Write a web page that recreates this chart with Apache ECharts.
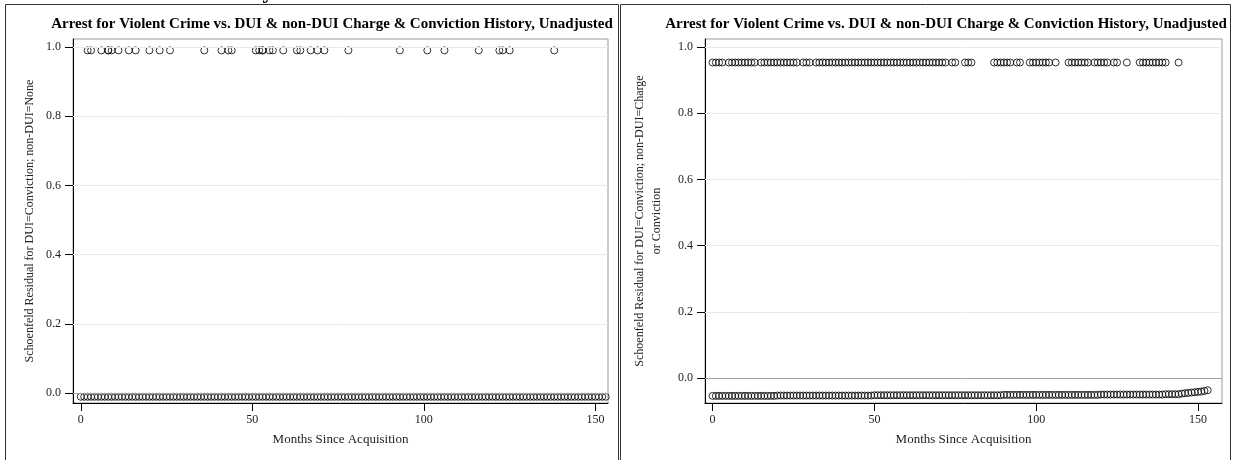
<!DOCTYPE html>
<html>
<head>
<meta charset="utf-8">
<script src="https://cdn.jsdelivr.net/npm/echarts@6/dist/echarts.min.js"></script>
<style>
  html, body { margin: 0; padding: 0; background: #fff; }
</style>
</head>
<body>
<div id="chart" style="width: 1233px; height: 460px;"></div>
<script>
// ---- data ----
var titleText = 'Arrest for Violent Crime vs. DUI & non-DUI Charge & Conviction History, Unadjusted';
var xTicks = [0, 50, 100, 150];
var yTicks = [0, 0.2, 0.4, 0.6, 0.8, 1.0];

// left panel: DUI=Conviction; non-DUI=None
var leftHighMonths = [2, 3, 6, 8, 8, 9, 11, 14, 16, 20, 23, 26, 36, 41, 43, 44, 51, 52, 53, 53, 55, 56,
  59, 63, 64, 67, 69, 71, 78, 93, 101, 106, 116, 122, 123, 125, 138];
var leftHighResid = 0.99;
var leftLowMonths = [0, 1, 2, 3, 4, 5, 6, 7, 8, 9, 10, 11, 12, 13, 14, 15, 16, 17, 18, 19,
  20, 21, 22, 23, 24, 25, 26, 27, 28, 29, 30, 31, 32, 33, 34, 35, 36, 37, 38, 39,
  40, 41, 42, 43, 44, 45, 46, 47, 48, 49, 50, 51, 52, 53, 54, 55, 56, 57, 58, 59,
  60, 61, 62, 63, 64, 65, 66, 67, 68, 69, 70, 71, 72, 73, 74, 75, 76, 77, 78, 79,
  80, 81, 82, 83, 84, 85, 86, 87, 88, 89, 90, 91, 92, 93, 94, 95, 96, 97, 98, 99,
  100, 101, 102, 103, 104, 105, 106, 107, 108, 109, 110, 111, 112, 113, 114, 115, 116, 117, 118, 119,
  120, 121, 122, 123, 124, 125, 126, 127, 128, 129, 130, 131, 132, 133, 134, 135, 136, 137, 138, 139,
  140, 141, 142, 143, 144, 145, 146, 147, 148, 149, 150, 151, 152, 153];
var leftLowResid = -0.011;

// right panel: DUI=Conviction; non-DUI=Charge or Conviction
var rightHighMonths = [0, 1, 2, 3, 5, 6, 7, 8, 9, 10, 11, 12, 13, 15, 16, 17, 18, 19, 20, 21, 22, 23, 24, 25, 26,
  28, 29, 30, 32, 33, 34, 35, 36, 37, 38, 39, 40, 41, 42, 43, 44, 45, 46, 47, 48, 49, 50, 51, 52, 53, 54,
  55, 56, 57, 58, 59, 60, 61, 62, 63, 64, 65, 66, 67, 68, 69, 70, 71, 72, 74, 75, 78, 79, 80,
  87, 88, 89, 90, 91, 92, 94, 95, 98, 99, 100, 101, 102, 103, 104, 106,
  110, 111, 112, 113, 114, 115, 116, 118, 119, 120, 121, 122, 124, 125, 128,
  132, 133, 134, 135, 136, 137, 138, 139, 140, 144];
var rightHighResid = 0.953;
var rightLowMonths = leftLowMonths;
var rightLowResid = [
  -0.054, -0.054, -0.054, -0.054, -0.054, -0.054, -0.054, -0.054, -0.054, -0.054,
  -0.054, -0.054, -0.054, -0.054, -0.054, -0.054, -0.054, -0.054, -0.054, -0.054,
  -0.053, -0.053, -0.053, -0.053, -0.053, -0.053, -0.053, -0.053, -0.053, -0.053,
  -0.053, -0.053, -0.053, -0.053, -0.053, -0.053, -0.053, -0.053, -0.053, -0.053,
  -0.053, -0.053, -0.053, -0.053, -0.053, -0.053, -0.053, -0.053, -0.053, -0.053,
  -0.052, -0.052, -0.052, -0.052, -0.052, -0.052, -0.052, -0.052, -0.052, -0.052,
  -0.052, -0.052, -0.052, -0.052, -0.052, -0.052, -0.052, -0.052, -0.052, -0.052,
  -0.052, -0.052, -0.052, -0.052, -0.052, -0.052, -0.052, -0.052, -0.052, -0.052,
  -0.052, -0.052, -0.052, -0.052, -0.052, -0.052, -0.052, -0.052, -0.052, -0.052,
  -0.051, -0.051, -0.051, -0.051, -0.051, -0.051, -0.051, -0.051, -0.051, -0.051,
  -0.051, -0.051, -0.051, -0.051, -0.051, -0.051, -0.051, -0.051, -0.051, -0.051,
  -0.051, -0.051, -0.051, -0.051, -0.051, -0.051, -0.051, -0.051, -0.051, -0.051,
  -0.050, -0.050, -0.050, -0.050, -0.050, -0.050, -0.050, -0.050, -0.050, -0.050,
  -0.050, -0.050, -0.050, -0.050, -0.050, -0.050, -0.050, -0.050, -0.050, -0.050,
  -0.049, -0.049, -0.049, -0.049, -0.049, -0.047, -0.046, -0.045, -0.044, -0.043,
  -0.042, -0.041, -0.039, -0.037];

var serif = '"Liberation Serif", "Times New Roman", serif';

function pts(months, resid) {
  return months.map(function (m, i) {
    return [m, Array.isArray(resid) ? resid[i] : resid];
  });
}

function circles(name, idx, data) {
  return {
    name: name,
    type: 'scatter',
    xAxisIndex: idx,
    yAxisIndex: idx,
    data: data,
    symbol: 'circle',
    symbolSize: 7,
    itemStyle: { color: 'rgba(0,0,0,0)', borderColor: '#000', borderWidth: 1 },
    z: 3
  };
}

// light grid lines plus the reference line at 0
function gridLines(idx) {
  var lines = yTicks.filter(function (v) { return v !== 0; }).map(function (v) {
    return { yAxis: v, lineStyle: { color: '#e9e9e9', width: 1, type: 'solid' } };
  });
  lines.push({ yAxis: 0, lineStyle: { color: '#a0a0a0', width: 1, type: 'solid' } });
  return {
    type: 'scatter',
    xAxisIndex: idx,
    yAxisIndex: idx,
    data: [],
    silent: true,
    z: 1,
    markLine: { silent: true, symbol: 'none', label: { show: false }, data: lines }
  };
}

function xAxis(idx, min, max) {
  return {
    type: 'value',
    gridIndex: idx,
    min: min,
    max: max,
    name: 'Months Since Acquisition',
    nameLocation: 'middle',
    nameGap: 30,
    nameTextStyle: { fontFamily: serif, fontSize: 13, color: '#222' },
    axisLine: { show: true, onZero: false, lineStyle: { color: '#000', width: 1 } },
    axisTick: { show: true, length: 8, customValues: xTicks, lineStyle: { color: '#000' } },
    axisLabel: { customValues: xTicks, margin: 11, fontFamily: serif, fontSize: 12, color: '#222' },
    splitLine: { show: false }
  };
}

function yAxis(idx, min, max, name, gap) {
  return {
    type: 'value',
    gridIndex: idx,
    min: min,
    max: max,
    name: name,
    nameLocation: 'middle',
    nameGap: gap,
    nameTextStyle: { fontFamily: serif, fontSize: 12, color: '#222', lineHeight: 17 },
    axisLine: { show: true, onZero: false, lineStyle: { color: '#000', width: 1 } },
    axisTick: { show: true, length: 8, customValues: yTicks, lineStyle: { color: '#000' } },
    axisLabel: {
      customValues: yTicks, margin: 12, fontFamily: serif, fontSize: 12, color: '#222',
      formatter: function (v) { return v.toFixed(1); }
    },
    splitLine: { show: false }
  };
}

var myChart = echarts.init(document.getElementById('chart'));
myChart.setOption({
  animation: false,
  backgroundColor: '#fff',
  grid: [
    { left: 73, top: 39, width: 535, height: 364, show: true, borderColor: '#9a9a9a', borderWidth: 1 },
    { left: 705, top: 39, width: 517, height: 364, show: true, borderColor: '#9a9a9a', borderWidth: 1 }
  ],
  xAxis: [xAxis(0, -2.27, 153.67), xAxis(1, -2.35, 157.42)],
  yAxis: [
    yAxis(0, -0.029, 1.023, 'Schoenfeld Residual for DUI=Conviction; non-DUI=None', 35),
    yAxis(1, -0.0755, 1.024, 'Schoenfeld Residual for DUI=Conviction; non-DUI=Charge\nor Conviction', 40)
  ],
  graphic: [
    { type: 'rect', shape: { x: 5.5, y: 4.5, width: 613, height: 470 }, style: { fill: null, stroke: '#333', lineWidth: 1 } },
    { type: 'rect', shape: { x: 620.5, y: 4.5, width: 610, height: 470 }, style: { fill: null, stroke: '#333', lineWidth: 1 } },
    // descender of a cut-off heading above the frame
    { type: 'text', x: 268, y: -19, style: { text: 'y', font: 'bold 22px ' + serif, textAlign: 'center', textVerticalAlign: 'top', fill: '#000' } },
    { type: 'text', x: 332, y: 24, style: { text: titleText, font: 'bold 15px ' + serif, textAlign: 'center', textVerticalAlign: 'middle', fill: '#000' } },
    { type: 'text', x: 946, y: 24, style: { text: titleText, font: 'bold 15px ' + serif, textAlign: 'center', textVerticalAlign: 'middle', fill: '#000' } }
  ],
  series: [
    gridLines(0),
    gridLines(1),
    circles('left high', 0, pts(leftHighMonths, leftHighResid)),
    circles('left low', 0, pts(leftLowMonths, leftLowResid)),
    circles('right high', 1, pts(rightHighMonths, rightHighResid)),
    circles('right low', 1, pts(rightLowMonths, rightLowResid))
  ]
});
</script>
</body>
</html>
